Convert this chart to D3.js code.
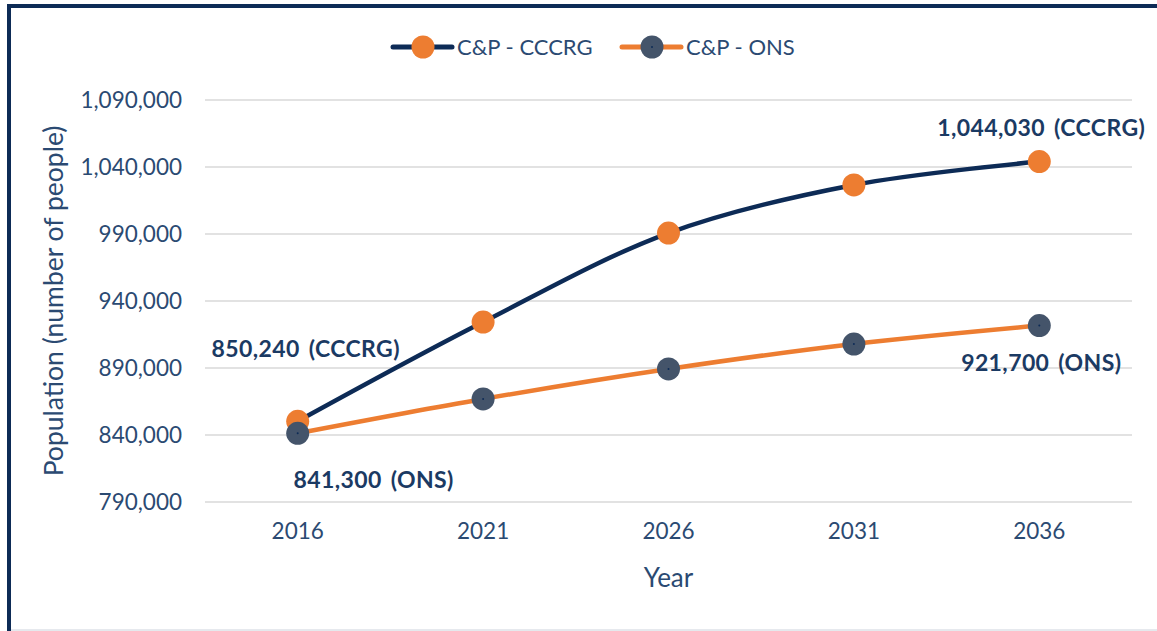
<!DOCTYPE html>
<html>
<head>
<meta charset="utf-8">
<script src="https://cdn.jsdelivr.net/npm/d3@7"></script>
<style>
  body { margin: 0; background: #fff; }
  svg { display: block; font-family: Lato, "Open Sans", sans-serif; }
</style>
</head>
<body>
<svg id="chart" width="1157" height="631"></svg>
<script>
// data
const years = ["2016", "2021", "2026", "2031", "2036"];
const cccrg = [850240, 924300, 990700, 1026600, 1044030];
const ons = [841300, 866900, 889300, 907900, 921700];
const yTicks = [790000, 840000, 890000, 940000, 990000, 1040000, 1090000];

const navy = "#0d2b56";
const orange = "#ed7d31";
const slate = "#44546a";
const textCol = "#2b4a72";

let svg = d3.select("#chart");
let w = 1157, h = 631;

// frame
svg.append("rect").attr("x", 7).attr("y", 4).attr("width", w).attr("height", 4).attr("fill", navy);
svg.append("rect").attr("x", 7).attr("y", 4).attr("width", 4).attr("height", h).attr("fill", navy);
svg.append("line").attr("x1", 11).attr("x2", w).attr("y1", 630).attr("y2", 630)
   .attr("stroke", "#ccd3dc").attr("stroke-width", 1);

let plotL = 205, plotR = 1132, plotT = 100, plotB = 502;

let x = d3.scaleBand().domain(years).range([plotL, plotR]);
let y = d3.scaleLinear().domain([790000, 1090000]).range([plotB, plotT]);
let fmt = d3.format(",");

// gridlines
svg.selectAll(".grid").data(yTicks).enter().append("line")
   .attr("class", "grid")
   .attr("x1", plotL).attr("x2", plotR)
   .attr("y1", d => y(d)).attr("y2", d => y(d))
   .attr("stroke", "#d9d9d9").attr("stroke-width", 1.3);

// y axis labels
let yAxis = d3.axisLeft(y).tickValues(yTicks).tickFormat(fmt).tickSize(0).tickPadding(0);
let gy = svg.append("g").attr("transform", "translate(182,0)").call(yAxis);
gy.select(".domain").remove();
gy.selectAll("text").attr("fill", textCol).style("font-size", "22.5px")
  .style("font-family", "Lato, sans-serif");

// x axis labels
let xAxis = d3.axisBottom(x).tickSize(0).tickPadding(0);
let gx = svg.append("g").attr("transform", "translate(0,523)").call(xAxis);
gx.select(".domain").remove();
gx.selectAll("text").attr("fill", textCol).style("font-size", "22.5px")
  .style("font-family", "Lato, sans-serif");

// axis titles
svg.append("text").text("Year")
   .attr("x", x("2026") + x.bandwidth() / 2).attr("y", 587)
   .attr("text-anchor", "middle").attr("fill", textCol).style("font-size", "26px");
svg.append("text").text("Population (number of people)")
   .attr("transform", "translate(63,301) rotate(-90)")
   .attr("text-anchor", "middle").attr("fill", textCol).style("font-size", "26.5px");

let cx = (d, i) => x(years[i]) + x.bandwidth() / 2;

function drawSeries(values, lineColor, markerColor, dot) {
  let line = d3.line().x((d, i) => cx(d, i)).y(d => y(d)).curve(d3.curveCatmullRom.alpha(0.5));
  svg.append("path").datum(values).attr("d", line)
     .attr("fill", "none").attr("stroke", lineColor).attr("stroke-width", 4.5);
  let g = svg.append("g");
  g.selectAll("circle").data(values).enter().append("circle")
   .attr("cx", (d, i) => cx(d, i)).attr("cy", d => y(d)).attr("r", 11.5)
   .attr("fill", markerColor);
  if (dot) {
    g.selectAll(".dot").data(values).enter().append("circle")
     .attr("class", "dot")
     .attr("cx", (d, i) => cx(d, i)).attr("cy", d => y(d)).attr("r", 1)
     .attr("fill", navy);
  }
}

drawSeries(cccrg, navy, orange, false);
drawSeries(ons, orange, slate, true);

// data labels at first and last points
let labels = [
  { vals: cccrg, i: 0, tag: "(CCCRG)", dx: 8, dy: -64 },
  { vals: cccrg, i: 4, tag: "(CCCRG)", dx: 2, dy: -26 },
  { vals: ons, i: 0, tag: "(ONS)", dx: 76, dy: 55 },
  { vals: ons, i: 4, tag: "(ONS)", dx: 2, dy: 45 }
];
svg.selectAll(".dlabel").data(labels).enter().append("text")
   .attr("class", "dlabel")
   .text(d => fmt(d.vals[d.i]) + " " + d.tag)
   .attr("x", d => cx(null, d.i) + d.dx)
   .attr("y", d => y(d.vals[d.i]) + d.dy)
   .attr("text-anchor", "middle")
   .attr("fill", "#1b3a63").style("font-weight", "bold").style("font-size", "23px")
   .style("letter-spacing", "0.4px").style("word-spacing", "3px");

// legend
let legend = [
  { name: "C&P - CCCRG", line: navy, marker: orange, x0: 393, dot: false },
  { name: "C&P - ONS", line: orange, marker: slate, x0: 622, dot: true }
];
let lg = svg.selectAll(".leg").data(legend).enter().append("g").attr("class", "leg")
   .attr("transform", d => "translate(" + d.x0 + ",47)");
lg.append("line").attr("x1", 0).attr("x2", 59).attr("y1", 0).attr("y2", 0)
  .attr("stroke", d => d.line).attr("stroke-width", 5).attr("stroke-linecap", "round");
lg.append("circle").attr("cx", 30).attr("cy", 0).attr("r", 11.5).attr("fill", d => d.marker);
lg.filter(d => d.dot).append("circle").attr("cx", 30).attr("cy", 0).attr("r", 1).attr("fill", navy);
lg.append("text").text(d => d.name).attr("x", 64).attr("y", 8)
  .attr("fill", textCol).style("font-size", "22px");
</script>
</body>
</html>
